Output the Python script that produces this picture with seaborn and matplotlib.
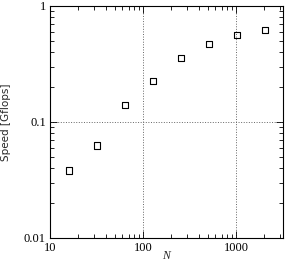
import matplotlib
matplotlib.use("Agg")
import matplotlib.pyplot as plt
import seaborn as sns
import pandas as pd
import numpy as np
from matplotlib.ticker import LogLocator, FixedLocator, NullFormatter, FixedFormatter

sns.set_theme(style="ticks")
plt.rcParams['font.family'] = ['Liberation Serif', 'DejaVu Serif']

N = [16, 32, 64, 128, 256, 512, 1024, 2048]
speed = [0.038, 0.063, 0.140, 0.226, 0.356, 0.47, 0.56, 0.62]
xticks = [10, 100, 1000]
xticklabels = ["10", "100", "1000"]
yticks = [0.01, 0.1, 1]
yticklabels = ["0.01", "0.1", "1"]

df = pd.DataFrame({"N": N, "speed": speed})

fig = plt.figure(figsize=(2.88, 2.62), dpi=100)
ax = fig.add_axes([50/288, 1-238/262, 233/288, 232/262])

sns.scatterplot(data=df, x="N", y="speed", ax=ax, marker="s", s=22,
                facecolor="none", edgecolor="black", linewidth=0.8, legend=False)

ax.set_xscale("log")
ax.set_yscale("log")
ax.set_xlim(10, 3200)
ax.set_ylim(0.01, 1)

ax.xaxis.set_major_locator(FixedLocator(xticks))
ax.xaxis.set_major_formatter(FixedFormatter(xticklabels))
ax.yaxis.set_major_locator(FixedLocator(yticks))
ax.yaxis.set_major_formatter(FixedFormatter(yticklabels))
ax.xaxis.set_minor_locator(LogLocator(base=10, subs=np.arange(2, 10)))
ax.yaxis.set_minor_locator(LogLocator(base=10, subs=np.arange(2, 10)))
ax.xaxis.set_minor_formatter(NullFormatter())
ax.yaxis.set_minor_formatter(NullFormatter())

ax.tick_params(which="both", direction="in", top=True, right=True, colors="black",
               labelsize=9, width=0.6)
ax.tick_params(which="major", length=5, pad=3)
ax.tick_params(which="minor", length=3)

for s in ax.spines.values():
    s.set_color("black")
    s.set_linewidth(0.8)

ax.grid(True, which="major", linestyle=":", color="#666666", linewidth=0.7)

ax.set_xlabel("N", fontstyle="italic", fontsize=8.5, labelpad=-3)
ax.set_ylabel("Speed [Gflops]", fontfamily=["DejaVu Sans"], fontsize=7.5, labelpad=9)

fig.savefig("out.png", dpi=100)
